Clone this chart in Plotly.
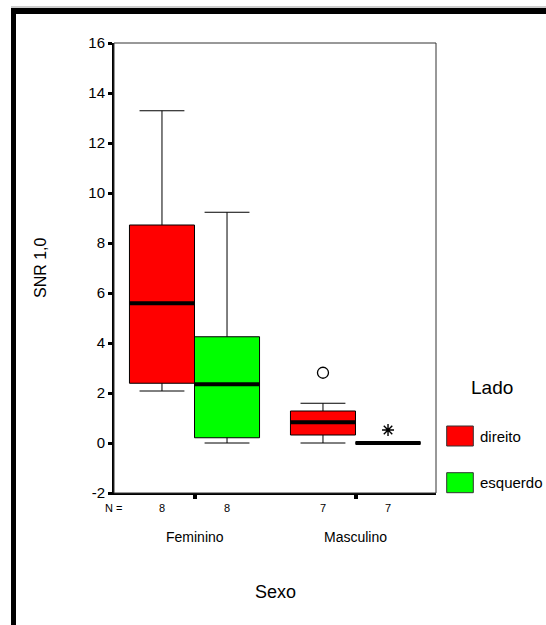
import plotly.graph_objects as go

# ---- data: SNR 1,0 by sex and side ----
sexo = ["Feminino", "Masculino"]
lado = ["direito", "esquerdo"]
cores = {"direito": "#FF0000", "esquerdo": "#00FF00"}

n_casos = {"direito": [8, 7], "esquerdo": [8, 7]}
minimo = {"direito": [2.08, 0.0], "esquerdo": [0.0, 0.0]}
q1 = {"direito": [2.39, 0.32], "esquerdo": [0.21, 0.0]}
mediana = {"direito": [5.59, 0.83], "esquerdo": [2.35, 0.0]}
q3 = {"direito": [8.72, 1.28], "esquerdo": [4.25, 0.0]}
maximo = {"direito": [13.29, 1.59], "esquerdo": [9.23, 0.0]}

# outlier (o) and extreme (*) values
atipico_sexo = ["Masculino"]
atipico_lado = ["direito"]
atipico_valor = [2.81]
extremo_sexo = ["Masculino"]
extremo_lado = ["esquerdo"]
extremo_valor = [0.52]

y_ticks = [-2, 0, 2, 4, 6, 8, 10, 12, 14, 16]
y_tick_text = ["-2", "0", "2", "4", "6", "8", "10", "12", "14", "16"]

# ---- layout geometry ----
W, H = 546, 625
PX_L, PX_R, PX_T, PX_B = 114, 436, 43, 493
FONT = "Liberation Sans, Arial, sans-serif"
BOX_W = 0.404
desloc = {"direito": -BOX_W / 2, "esquerdo": BOX_W / 2}


def fx(px):
    return (px - PX_L) / (PX_R - PX_L)


def fy(py):
    return (PX_B - py) / (PX_B - PX_T)


def pos(s, l):
    return sexo.index(s) + desloc[l]


fig = go.Figure()

for l in lado:
    xs = [pos(s, l) for s in sexo]
    fig.add_trace(go.Box(
        x=xs, q1=q1[l], median=mediana[l], q3=q3[l],
        lowerfence=minimo[l], upperfence=maximo[l],
        width=BOX_W, whiskerwidth=0.69,
        fillcolor=cores[l], line=dict(color="black", width=1),
        boxpoints=False, showlegend=False, hoverinfo="skip", name=l,
    ))
    # thick median bar
    fig.add_trace(go.Box(
        x=xs, q1=mediana[l], median=mediana[l], q3=mediana[l],
        lowerfence=mediana[l], upperfence=mediana[l],
        width=BOX_W, whiskerwidth=0,
        fillcolor="rgba(0,0,0,0)", line=dict(color="black", width=4),
        boxpoints=False, showlegend=False, hoverinfo="skip",
    ))

fig.add_trace(go.Scatter(
    x=[pos(s, l) for s, l in zip(atipico_sexo, atipico_lado)], y=atipico_valor,
    mode="markers", showlegend=False, hoverinfo="skip",
    marker=dict(symbol="circle-open", size=11, color="black", line=dict(width=1.3)),
))
fig.add_trace(go.Scatter(
    x=[pos(s, l) for s, l in zip(extremo_sexo, extremo_lado)], y=extremo_valor,
    mode="markers", showlegend=False, hoverinfo="skip",
    marker=dict(symbol="asterisk-open", size=10, color="black", line=dict(width=1.4, color="black")),
))

shapes = [
    # plot frame (top / right)
    dict(type="rect", xref="paper", yref="paper", x0=0, x1=1, y0=0, y1=1,
         line=dict(color="#333333", width=1)),
    # outer page border
    dict(type="line", xref="paper", yref="paper", x0=fx(11), x1=fx(W + 5), y0=fy(7), y1=fy(7),
         line=dict(color="#9a9a9a", width=1)),
    dict(type="rect", xref="paper", yref="paper", x0=fx(11), x1=fx(W + 5), y0=fy(14), y1=fy(8),
         fillcolor="black", line=dict(width=0)),
    dict(type="rect", xref="paper", yref="paper", x0=fx(11), x1=fx(16), y0=fy(H + 5), y1=fy(8),
         fillcolor="black", line=dict(width=0)),
]


def texto(text, x, y, size, xref="paper", xanchor="center", angle=0):
    return dict(text=text, xref=xref, yref="paper", x=x, y=y, textangle=angle,
                xanchor=xanchor, yanchor="middle", showarrow=False, font=dict(size=size))


annotations = [
    texto("SNR 1,0", fx(40), 0.5, 16, angle=-90),
    texto("N =", fx(113.5), fy(508), 11),
    texto("Sexo", 0.5, fy(592), 18),
    texto("Lado", fx(492), fy(387), 19),
]

for i, s in enumerate(sexo):
    annotations.append(texto(s, i, fy(536.5), 14, xref="x"))
    for l in lado:
        annotations.append(texto(str(n_casos[l][i]), pos(s, l), fy(508), 11, xref="x"))

# legend swatches
leg_y = {"direito": (426, 446), "esquerdo": (472.7, 492.7)}
for l in lado:
    y0, y1 = leg_y[l]
    shapes.append(dict(type="rect", xref="paper", yref="paper",
                       x0=fx(446.7), x1=fx(473.3), y0=fy(y1), y1=fy(y0),
                       fillcolor=cores[l], line=dict(color="#333333", width=1)))
    annotations.append(texto(l, fx(478), fy((y0 + y1) / 2), 15, xanchor="left"))

fig.update_layout(
    width=W, height=H,
    margin=dict(l=PX_L, r=W - PX_R, t=PX_T, b=H - PX_B),
    paper_bgcolor="white", plot_bgcolor="white",
    font=dict(family=FONT, color="black"),
    boxmode="overlay",
    shapes=shapes, annotations=annotations,
    xaxis=dict(range=[-0.5, 1.5], tickvals=[0, 1], showticklabels=False,
               ticks="outside", ticklen=4, tickwidth=4, tickcolor="black",
               showline=True, linecolor="black", linewidth=2,
               showgrid=False, zeroline=False, fixedrange=True),
    yaxis=dict(range=[-2, 16], tickvals=y_ticks, ticktext=y_tick_text,
               ticks="outside", ticklen=4, tickwidth=3,
               tickcolor="black", tickfont=dict(size=15),
               showline=True, linecolor="black", linewidth=2,
               showgrid=False, zeroline=False, fixedrange=True),
)

fig.write_html("out.html")
